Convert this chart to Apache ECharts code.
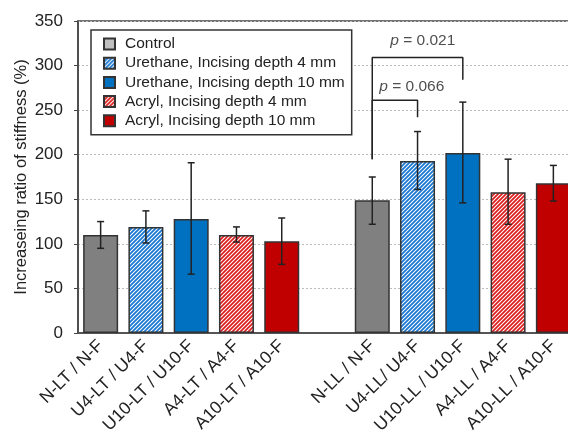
<!DOCTYPE html>
<html>
<head>
<meta charset="utf-8">
<script src="https://cdn.jsdelivr.net/npm/echarts@6/dist/echarts.min.js"></script>
<style>
  html, body { margin: 0; padding: 0; background: #fff; }
  #main { width: 568px; height: 434px; }
</style>
</head>
<body>
<div id="main"></div>
<script>
// data
const categories = ['N-LT / N-F', 'U4-LT / U4-F', 'U10-LT / U10-F', 'A4-LT / A4-F', 'A10-LT / A10-F', '',
  'N-LL / N-F', 'U4-LL/ U4-F', 'U10-LL / U10-F', 'A4-LL / A4-F', 'A10-LL / A10-F'];
const meanValues = [110, 119, 128, 110, 103, null, 149, 193, 202, 158, 168];
const errLow = [95, 101, 66, 102, 77, null, 122, 161, 146, 122, 148];
const errHigh = [125, 137, 191, 119, 129, null, 175, 226, 259, 195, 188];
const groupOf = [0, 1, 2, 3, 4, null, 0, 1, 2, 3, 4];
const groupNames = ['Control', 'Urethane, Incising depth 4 mm', 'Urethane, Incising depth 10 mm',
  'Acryl, Incising depth 4 mm', 'Acryl, Incising depth 10 mm'];
const yTicks = [0, 50, 100, 150, 200, 250, 300, 350];
// significance brackets: [from category, to category, bracket height, left foot, right foot]
const brackets = [
  [6, 8, 309, 195, 284],
  [6, 7, 261, 195, 242]
];
const pLabels = [['0.021', 6, 328], ['0.066', 6, 276]];

// hatch pattern for the 4 mm groups
function hatch(color) {
  const c = document.createElement('canvas');
  c.width = 4; c.height = 4;
  const ctx = c.getContext('2d');
  ctx.fillStyle = '#fff';
  ctx.fillRect(0, 0, 4, 4);
  ctx.strokeStyle = color;
  ctx.lineWidth = 1.8;
  ctx.beginPath();
  ctx.moveTo(-1, 5); ctx.lineTo(5, -1);
  ctx.moveTo(-1, 1); ctx.lineTo(1, -1);
  ctx.moveTo(3, 5); ctx.lineTo(5, 3);
  ctx.stroke();
  return c;
}

const fills = [
  '#808080',
  { image: hatch('#1a78d2'), repeat: 'repeat' },
  '#0070c0',
  { image: hatch('#dc2020'), repeat: 'repeat' },
  '#c00000'
];

const barSeries = groupNames.map((name, g) => ({
  name: name,
  type: 'bar',
  barWidth: 35,
  barGap: '-100%',
  itemStyle: { color: fills[g], borderColor: '#333', borderWidth: 1.5 },
  data: meanValues.map((v, i) => (groupOf[i] === g ? v : '-'))
}));

const errorSeries = {
  type: 'custom',
  z: 5,
  silent: true,
  data: meanValues.map((v, i) => (v == null ? null : [i, errLow[i], errHigh[i]])).filter(d => d),
  renderItem: function (params, api) {
    const lo = api.coord([api.value(0), api.value(1)]);
    const hi = api.coord([api.value(0), api.value(2)]);
    const w = 3.5;
    const st = { stroke: '#222', lineWidth: 1.5 };
    return {
      type: 'group',
      children: [
        { type: 'line', shape: { x1: lo[0], y1: lo[1], x2: hi[0], y2: hi[1] }, style: st },
        { type: 'line', shape: { x1: lo[0] - w, y1: lo[1], x2: lo[0] + w, y2: lo[1] }, style: st },
        { type: 'line', shape: { x1: hi[0] - w, y1: hi[1], x2: hi[0] + w, y2: hi[1] }, style: st }
      ]
    };
  }
};

const bracketSeries = brackets.map(b => ({
  type: 'line',
  silent: true,
  symbol: 'none',
  z: 6,
  lineStyle: { color: '#222', width: 1.5 },
  data: [[b[0], b[3]], [b[0], b[2]], [b[1], b[2]], [b[1], b[4]]]
}));

const pSeries = {
  type: 'scatter',
  silent: true,
  symbolSize: 0,
  z: 6,
  data: pLabels.map(p => ({ value: [p[1], p[2]], pv: p[0] })),
  label: {
    show: true,
    position: 'inside',
    align: 'left',
    verticalAlign: 'middle',
    formatter: function (p) {
      return '{i|p}{n| = ' + p.data.pv + '}';
    },
    rich: {
      i: { fontStyle: 'italic', fontSize: 15.5, color: '#222', fontFamily: 'Liberation Sans' },
      n: { fontSize: 15.5, color: '#222', fontFamily: 'Liberation Sans' }
    }
  }
};
pSeries.data[0].label = { offset: [18, 0] };
pSeries.data[1].label = { offset: [7, 0] };

const chart = echarts.init(document.getElementById('main'));
chart.setOption({
  animation: false,
  textStyle: { fontFamily: 'Liberation Sans' },
  grid: {
    left: 78, top: 21, width: 498, height: 312,
    outerBoundsMode: 'none',
    containLabel: false,
    show: true, borderColor: '#444', borderWidth: 1.5, backgroundColor: 'transparent'
  },
  legend: {
    orient: 'vertical',
    left: 91, top: 30,
    padding: [6, 7, 6, 12],
    borderColor: '#333',
    borderWidth: 1.5,
    backgroundColor: '#fff',
    itemWidth: 11,
    itemHeight: 11,
    itemGap: 3.2,
    icon: 'rect',
    textStyle: { fontSize: 15.5, color: '#222', lineHeight: 15.5, padding: [0, 0, 0, 5] },
    data: groupNames.map((n, g) => (g === 0 ? { name: n, itemStyle: { color: '#bfbfbf' } } : { name: n }))
  },
  xAxis: {
    type: 'category',
    data: categories,
    axisLine: { lineStyle: { color: '#555', width: 2 } },
    axisTick: { show: false },
    axisLabel: { interval: 0, rotate: 45, fontSize: 17.5, color: '#222', margin: 10 },
    splitLine: { show: false }
  },
  yAxis: {
    type: 'value',
    min: yTicks[0],
    max: yTicks[yTicks.length - 1],
    interval: 50,
    name: 'Increaseing ratio of stiffness (%)',
    nameLocation: 'middle',
    nameGap: 48,
    nameMoveOverlap: false,
    nameTextStyle: { fontSize: 16.5, color: '#222' },
    axisLine: { show: true, lineStyle: { color: '#444', width: 1.5 } },
    axisTick: { show: true, length: 4, lineStyle: { color: '#444' } },
    axisLabel: { fontSize: 17, color: '#222', margin: 15 },
    splitLine: { lineStyle: { color: '#bbb', type: [2, 2] } }
  },
  series: [...barSeries, errorSeries, ...bracketSeries, pSeries]
});
</script>
</body>
</html>
